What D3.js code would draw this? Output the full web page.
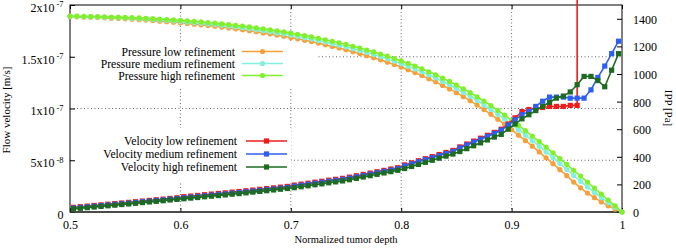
<!DOCTYPE html>
<html>
<head>
<meta charset="utf-8">
<script src="https://cdn.jsdelivr.net/npm/d3@7"></script>
<style>
  body { margin: 0; background: #fff; }
  svg { display: block; font-family: "Liberation Serif", "Times New Roman", serif; }
</style>
</head>
<body>
<div id="chart"></div>
<script>
// mesh: pressure on nodes, velocity on cell centres, step 1/160
const depthStep = 1 / 160;
const pressureDepth = d3.range(81).map(i => 0.5 + i * depthStep);
const velocityDepth = d3.range(80).map(i => 0.5 + (i + 0.5) * depthStep);

// IPP [Pa]
const pressureLow = [1416,1414,1412,1411,1409,1407,1404,1403,1400,
  1397,1394,1391,1387,1383,1379,1375,1371,
  1366,1361,1356,1351,1346,1340,1334,1327,
  1321,1314,1306,1298,1291,1282,1274,1264,
  1255,1244,1235,1224,1212,1200,1189,1176,
  1162,1148,1133,1118,1103,1086,1068,1050,
  1031,1010,989,966,943,917,892,865,
  836,807,775,742,708,672,636,597,
  557,517,477,435,393,350,307,263,
  217,175,137,104,73,45,21,0];
const pressureMedium = [1418,1417,1415,1414,1413,1411,1409,1408,1405,
  1403,1401,1398,1395,1391,1388,1384,1381,
  1376,1372,1368,1363,1358,1353,1347,1341,
  1335,1329,1321,1314,1307,1298,1291,1282,
  1273,1263,1254,1243,1232,1220,1209,1197,
  1183,1170,1156,1141,1126,1110,1092,1075,
  1056,1036,1016,993,971,946,922,895,
  867,839,808,776,743,708,672,634,
  595,557,517,476,435,393,351,308,
  264,222,181,142,104,68,34,0];
const pressureHigh = [1420,1419,1418,1417,1416,1415,1413,1412,1410,
  1408,1406,1404,1401,1398,1395,1392,1389,
  1385,1381,1377,1373,1368,1363,1358,1352,
  1347,1341,1334,1327,1320,1312,1305,1296,
  1288,1278,1269,1259,1248,1237,1226,1214,
  1201,1188,1174,1160,1145,1129,1112,1095,
  1077,1058,1038,1016,994,970,946,920,
  893,865,835,804,771,737,702,665,
  627,589,550,510,470,429,387,345,
  302,260,217,174,130,87,44,0];

// flow velocity, in units of 1e-9 m/s
const velocityLow = [4.5,5.1,5.7,6.3,6.9,7.5,8.1,8.7,
  9.3,9.9,10.6,11.2,11.8,12.4,13.1,13.7,
  14.8,15.4,16.0,16.7,17.3,17.9,18.5,19.2,
  19.8,20.5,21.2,21.9,22.6,23.3,24.0,24.7,
  26.0,26.9,27.8,28.8,29.7,30.7,31.6,32.5,
  33.7,35.0,36.3,37.6,38.9,40.2,41.5,42.8,
  45.5,47.5,49.5,51.5,53.5,55.5,57.5,59.5,
  62.9,65.7,68.5,71.3,74.1,76.9,80,85,
  91,97,99,100,101,102,102,102,
  103,103,1e6];
const velocityMedium = [3.8,4.4,5.0,5.6,6.2,6.8,7.4,8.0,
  8.6,9.2,9.9,10.5,11.1,11.7,12.4,13.0,
  13.8,14.4,15.0,15.7,16.3,16.9,17.5,18.2,
  18.8,19.5,20.2,20.9,21.6,22.3,23.0,23.7,
  25.0,25.9,26.8,27.8,28.7,29.7,30.6,31.5,
  32.7,34.0,35.3,36.6,37.9,39.2,40.5,41.8,
  44.5,46.5,48.5,50.5,52.5,54.5,56.5,58.5,
  61.9,64.7,67.5,70.3,73.1,75.9,79,84,
  89,94,97,102,107,111,111,111,
  110,110,110,118,130,141,153,165];
const velocityHigh = [3.0,3.6,4.2,4.8,5.4,6.0,6.6,7.2,
  7.8,8.4,9.1,9.7,10.3,10.9,11.6,12.2,
  12.8,13.4,14.0,14.7,15.3,15.9,16.5,17.2,
  17.8,18.5,19.2,19.9,20.6,21.3,22.0,22.7,
  23.5,24.4,25.3,26.3,27.2,28.2,29.1,30.0,
  31.2,32.5,33.8,35.1,36.4,37.7,39.0,40.3,
  42,44,46,48,50,52,54,56,
  58.4,61.2,64,66.8,69.6,72.4,75,80,
  85,90,94,98,102,106,110,112,
  116,123,131,131,127,121,137,153];

const xTicks = [0.5, 0.6, 0.7, 0.8, 0.9, 1];
const xTickLabels = ["0.5", "0.6", "0.7", "0.8", "0.9", "1"];
const velTicks = [0, 50, 100, 150, 200];
const velTickLabels = [["0", ""], ["5x10", "-8"], ["1x10", "-7"], ["1.5x10", "-7"], ["2x10", "-7"]];
const pTicks = [0, 200, 400, 600, 800, 1000, 1200, 1400];
const xGrid = [0.6, 0.7, 0.8, 0.9];
const yGrid = [50, 100, 150];

const pressureNames = ["Pressure low refinement", "Pressure medium refinement", "Pressure high refinement"];
const velocityNames = ["Velocity low refinement", "Velocity medium refinement", "Velocity high refinement"];
const pressureColors = ["#f7a03a", "#80f0df", "#7ff02a"];
const velocityColors = ["#f01c1c", "#2f5ef2", "#1d6b20"];

const width = 676, height = 248;
const plot = { left: 70, right: 622, top: 5, bottom: 212 };
const serif = '"Liberation Serif", "Times New Roman", serif';

const svg = d3.select("#chart").append("svg")
    .attr("width", width)
    .attr("height", height);

const x = d3.scaleLinear().domain([0.5, 1]).range([plot.left, plot.right]);
const yVel = d3.scaleLinear().domain([0, 200]).range([plot.bottom, plot.top]);
const yP = d3.scaleLinear().domain([0, 1500]).range([plot.bottom, plot.top]);

// grid
const grid = svg.append("g")
    .attr("stroke", "#555")
    .attr("stroke-width", 0.9)
    .attr("stroke-dasharray", "1,2.5");
grid.selectAll(".gx").data(xGrid).join("line")
    .attr("x1", d => x(d)).attr("x2", d => x(d))
    .attr("y1", plot.top).attr("y2", plot.bottom);
grid.selectAll(".gy").data(yGrid).join("line")
    .attr("x1", plot.left).attr("x2", plot.right)
    .attr("y1", d => yVel(d)).attr("y2", d => yVel(d));

// opaque key boxes
svg.append("rect").attr("x", 71).attr("y", 42).attr("width", 247).attr("height", 46).attr("fill", "#fff");
svg.append("rect").attr("x", 71).attr("y", 128).attr("width", 220).attr("height", 53).attr("fill", "#fff");

// axes
function styleAxis(g) {
    g.attr("font-family", serif).attr("font-size", 12);
    g.select(".domain").remove();
    g.selectAll("line").attr("stroke", "#000");
    g.selectAll("text").attr("fill", "#000");
}

svg.append("g")
    .attr("transform", `translate(0,${plot.bottom})`)
    .call(d3.axisBottom(x).tickValues(xTicks).tickFormat((d, i) => xTickLabels[i])
        .tickSize(-4).tickSizeOuter(0).tickPadding(8.5))
    .call(styleAxis);

svg.append("g")
    .attr("transform", `translate(0,${plot.top})`)
    .call(d3.axisTop(x).tickValues(xTicks).tickFormat("").tickSize(-4).tickSizeOuter(0))
    .call(styleAxis);

const leftAxis = svg.append("g")
    .attr("transform", `translate(${plot.left},0)`)
    .call(d3.axisLeft(yVel).tickValues(velTicks).tickFormat("")
        .tickSize(-5).tickSizeOuter(0).tickPadding(6.5))
    .call(styleAxis);
leftAxis.selectAll("text").attr("dy", "0.52em").each(function (d, i) {
    const t = d3.select(this);
    t.append("tspan").text(velTickLabels[i][0]);
    if (velTickLabels[i][1]) {
        t.append("tspan").attr("dx", 2).attr("dy", -4.5)
            .attr("font-size", 8.5).text(velTickLabels[i][1]);
    }
});

svg.append("g")
    .attr("transform", `translate(${plot.right},0)`)
    .call(d3.axisRight(yP).tickValues(pTicks).tickFormat(d3.format("d"))
        .tickSize(-5).tickSizeOuter(0).tickPadding(11))
    .call(styleAxis)
    .call(g => g.selectAll("text").attr("dy", "0.38em"));

// frame
svg.append("rect")
    .attr("x", plot.left).attr("y", plot.top)
    .attr("width", plot.right - plot.left).attr("height", plot.bottom - plot.top)
    .attr("fill", "none").attr("stroke", "#000").attr("stroke-width", 1);
svg.append("line")
    .attr("x1", plot.left).attr("x2", plot.right)
    .attr("y1", plot.bottom).attr("y2", plot.bottom)
    .attr("stroke", "#3a3a3a").attr("stroke-width", 1.6);

// curves
const curves = svg.append("g");

function drawPressure(vals, color) {
    const pts = vals.map((v, i) => ({ d: pressureDepth[i], v }));
    curves.append("path").datum(pts)
        .attr("d", d3.line().x(p => x(p.d)).y(p => yP(p.v)))
        .attr("fill", "none").attr("stroke", color).attr("stroke-width", 1.6);
    curves.append("g").selectAll("circle").data(pts).join("circle")
        .attr("cx", p => x(p.d)).attr("cy", p => yP(p.v)).attr("r", 2.6)
        .attr("fill", color);
}

function drawVelocity(vals, color) {
    const pts = vals.map((v, i) => ({ d: velocityDepth[i], v }));
    curves.append("path").datum(pts)
        .attr("d", d3.line().x(p => x(p.d)).y(p => yVel(p.v)))
        .attr("fill", "none").attr("stroke", color).attr("stroke-width", 1.6);
    curves.append("g").selectAll("rect").data(pts).join("rect")
        .attr("x", p => x(p.d) - 2.6).attr("y", p => yVel(p.v) - 2.6)
        .attr("width", 5.2).attr("height", 5.2)
        .attr("fill", color);
}

[pressureLow, pressureMedium, pressureHigh].forEach((s, i) => drawPressure(s, pressureColors[i]));
[velocityLow, velocityMedium, velocityHigh].forEach((s, i) => drawVelocity(s, velocityColors[i]));

// keys
function drawKey(names, colors, textX, lineX1, lineX2, rowY, marker) {
    const key = svg.append("g").attr("font-family", serif).attr("font-size", 11.7);
    names.forEach((name, i) => {
        const cy = rowY[i];
        key.append("text").attr("x", textX).attr("y", cy + 4)
            .attr("text-anchor", "end").text(name);
        key.append("line").attr("x1", lineX1).attr("x2", lineX2)
            .attr("y1", cy).attr("y2", cy)
            .attr("stroke", colors[i]).attr("stroke-width", 1.6);
        const mx = (lineX1 + lineX2) / 2;
        if (marker === "circle") {
            key.append("circle").attr("cx", mx).attr("cy", cy).attr("r", 2.6).attr("fill", colors[i]);
        } else {
            key.append("rect").attr("x", mx - 2.6).attr("y", cy - 2.6)
                .attr("width", 5.2).attr("height", 5.2).attr("fill", colors[i]);
        }
    });
}
drawKey(pressureNames, pressureColors, 235, 242, 283, [51.5, 63.5, 75.5], "circle");
drawKey(velocityNames, velocityColors, 237, 246, 287, [141, 154, 167], "square");

// axis titles
svg.append("text")
    .attr("x", (plot.left + plot.right) / 2).attr("y", 243)
    .attr("text-anchor", "middle").attr("font-family", serif).attr("font-size", 10.5)
    .text("Normalized tumor depth");
svg.append("text")
    .attr("transform", "translate(10,110) rotate(-90)")
    .attr("text-anchor", "middle").attr("font-family", serif).attr("font-size", 11)
    .text("Flow velocity [m/s]");
svg.append("text")
    .attr("transform", "translate(665,108) rotate(90)")
    .attr("text-anchor", "middle").attr("font-family", serif).attr("font-size", 11)
    .text("IPP [Pa]");
</script>
</body>
</html>
